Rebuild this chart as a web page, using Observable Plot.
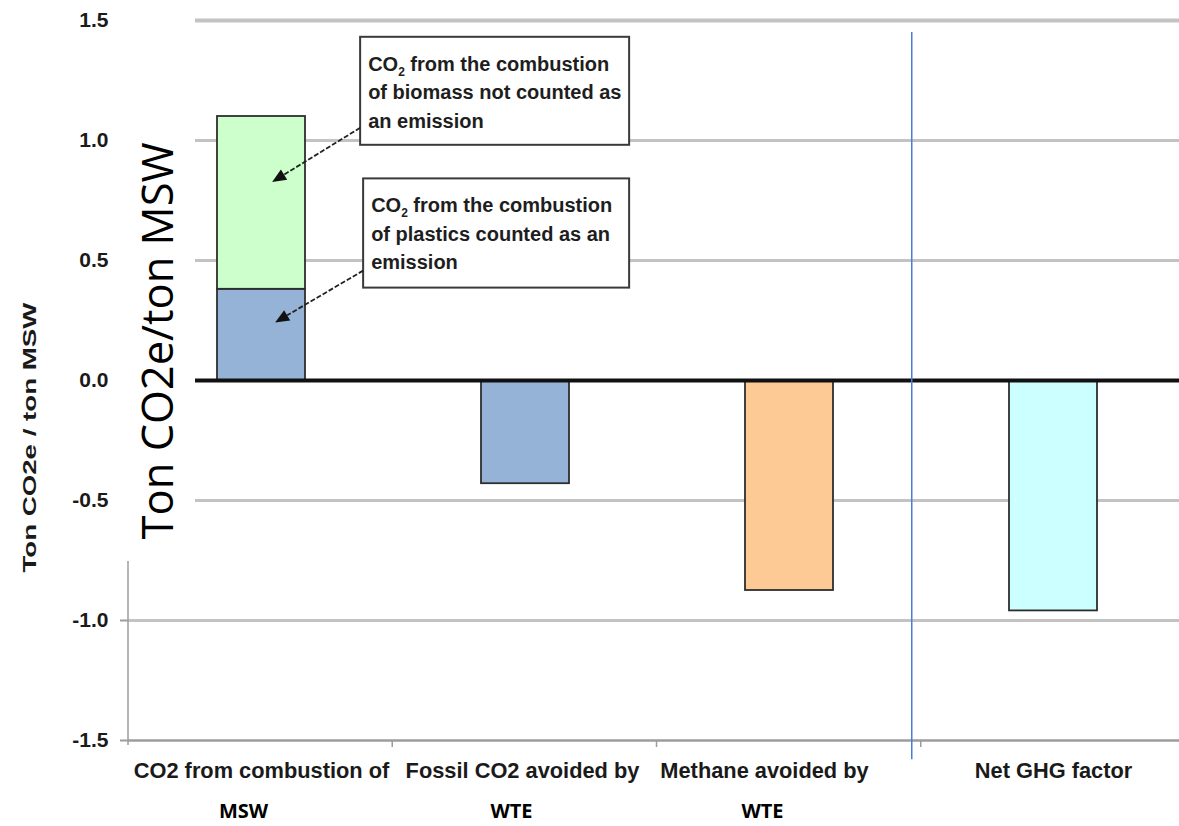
<!DOCTYPE html>
<html><head><meta charset="utf-8">
<script src="https://cdn.jsdelivr.net/npm/d3@7"></script>
<script src="https://cdn.jsdelivr.net/npm/@observablehq/plot@0.6"></script>
<style>
html,body{margin:0;padding:0;background:#fff;overflow:hidden;}
#chart{position:relative;width:1179px;height:826px;}
</style></head><body><div id="chart"></div>
<script>
// ---------- data ----------
const categories = ["CO2 from combustion of", "Fossil CO2 avoided by", "Methane avoided by", "Net GHG factor"];
const categorySecondLine = ["MSW", "WTE", "WTE", ""];
const seriesNames = ["CO2 from plastics", "CO2 from biomass", "Fossil CO2 avoided", "Methane avoided", "Net GHG factor"];
const seriesCategory = [0, 0, 1, 2, 3];
const seriesValues = [0.38, 0.72, -0.43, -0.875, -0.96];
const seriesColors = ["#95b3d7", "#ccffcc", "#95b3d7", "#fdca95", "#ccffff"];
const yTicks = [-1.5, -1.0, -0.5, 0, 0.5, 1.0, 1.5];
const annotationLines = [
  ["CO|2| from the combustion", "of biomass not counted as", "an emission"],
  ["CO|2| from the combustion", "of plastics counted as an", "emission"]
];
const annotationTarget = [0.825, 0.24];
const annotationBoxTop = [1.43, 0.84];
const annotationBoxBottom = [0.98, 0.385];
const yTitle = "Ton CO2e / ton MSW";
const overlayTitle = "Ton CO2e/ton MSW";
const separatorTop = 1.45, separatorBottom = -1.58;

// ---------- styles ----------
const SANS = "'Liberation Sans', Arial, Helvetica, sans-serif";
const OPEN = "'Open Sans', 'Noto Sans', sans-serif";
const labelNudge = [0, -3, -25, 0];
const secondNudge = [-18, -14, -27, 0];

const rows = seriesNames.map((s, i) => ({series: s, category: categories[seriesCategory[i]], value: seriesValues[i]}));

const plot = Plot.plot({
  width: 1179, height: 826,
  marginTop: 20, marginBottom: 86, marginLeft: 128, marginRight: 0,
  x: {domain: categories, range: [128, 1185], padding: 0, axis: null},
  y: {domain: [-1.5, 1.5]},
  color: {domain: seriesNames, range: seriesColors},
  style: {fontFamily: SANS, background: "white", color: "#1a1a1a"},
  marks: [
    Plot.ruleY(yTicks.filter(d => d !== 0 && d !== -1.5 && d !== 1.5), {stroke: "#c3c3c3", strokeWidth: 3}),
    Plot.ruleY([1.5], {stroke: "#c3c3c3", strokeWidth: 4}),
    Plot.ruleY([-1.5], {stroke: "#9c9c9c", strokeWidth: 2.5}),
    Plot.axisY({ticks: yTicks, tickSize: 8, tickPadding: 12, stroke: "#9c9c9c", strokeWidth: 2,
      tickFormat: d => d.toFixed(1), fontSize: 21, fontWeight: "bold", label: null}),
    Plot.barY(rows, {x: "category", y: "value", fill: "series", stroke: "#2e2e2e", strokeWidth: 1.8,
      insetLeft: 88, insetRight: 88}),
    Plot.ruleY([0], {stroke: "#111", strokeWidth: 4}),
    ...categories.map((c, i) => Plot.text([c], {x: d => d, text: d => d, frameAnchor: "bottom", dy: 37, dx: labelNudge[i],
      fontSize: 21.8, fontWeight: "bold", fill: "#1a1a1a"})),
    ...categories.map((c, i) => Plot.text([c], {x: d => d, text: () => categorySecondLine[i], frameAnchor: "bottom", dy: 77,
      dx: secondNudge[i], fontSize: 20, fontWeight: "bold", fontFamily: OPEN, fill: "#000"}))
  ]
});
document.getElementById("chart").appendChild(plot);

// ---------- decorations using Plot's scales ----------
const sx = plot.scale("x"), sy = plot.scale("y");
const xs = d3.scaleBand(sx.domain, sx.range).paddingInner(sx.paddingInner || 0).paddingOuter(sx.paddingOuter || 0).align(sx.align ?? 0.5);
const ys = d3.scaleLinear(sy.domain, sy.range);
const svg = d3.select(plot);
const g = svg.append("g").attr("text-anchor", "start");
const x0 = xs.range()[0];
const c0 = xs(categories[0]) + xs.bandwidth() / 2;

// x boundary ticks
for (let i = 1; i < categories.length; i++) {
  const bx = xs(categories[i]);
  g.append("line").attr("x1", bx).attr("x2", bx).attr("y1", ys(-1.5)).attr("y2", ys(-1.5) + 7)
    .attr("stroke", "#9c9c9c").attr("stroke-width", 1.5);
}
// y axis line
g.append("line").attr("x1", x0).attr("x2", x0).attr("y1", ys(1.5)).attr("y2", ys(-1.5) + 5)
  .attr("stroke", "#9c9c9c").attr("stroke-width", 1.5);
// blue separator
const sepX = xs(categories[3]) - 9;
g.append("line").attr("x1", sepX).attr("x2", sepX).attr("y1", ys(separatorTop)).attr("y2", ys(separatorBottom))
  .attr("stroke", "#4a7bd8").attr("stroke-width", 1.5);

// white cover with overlay title
g.append("rect").attr("x", x0 - 16).attr("y", 0).attr("width", 83).attr("height", ys(-0.75) + 1).attr("fill", "white");
g.append("text").attr("transform", `translate(${x0 + 28},${ys(0.163)}) rotate(-90)`)
  .attr("text-anchor", "middle").attr("dominant-baseline", "central")
  .attr("font-family", OPEN).attr("font-size", 43).attr("fill", "#000")
  .attr("textLength", 397).attr("lengthAdjust", "spacingAndGlyphs").text(overlayTitle);

// y title
g.append("text").attr("transform", `translate(29,${ys(-0.24)}) rotate(-90)`)
  .attr("text-anchor", "middle").attr("dominant-baseline", "central")
  .attr("font-family", SANS).attr("font-weight", "bold").attr("font-size", 19).attr("fill", "#1a1a1a")
  .attr("textLength", 270).attr("lengthAdjust", "spacingAndGlyphs").text(yTitle);

// annotations
const boxLeft = [c0 + 100, c0 + 103];
const boxWidth = [269, 266];
annotationLines.forEach((lines, k) => {
  const top = ys(annotationBoxTop[k]), bottom = ys(annotationBoxBottom[k]);
  const L = boxLeft[k];
  g.append("rect").attr("x", L).attr("y", top).attr("width", boxWidth[k]).attr("height", bottom - top)
    .attr("fill", "white").attr("stroke", "#3a3a3a").attr("stroke-width", 2);
  lines.forEach((ln, j) => {
    const t = g.append("text").attr("x", L + 8).attr("y", top + 34 + j * 28.5).attr("text-anchor", "start")
      .attr("font-family", SANS).attr("font-weight", "bold").attr("font-size", 20).attr("fill", "#1e1e1e");
    const parts = ln.split("|");
    parts.forEach((p, m) => {
      if (m === 1) t.append("tspan").attr("font-size", 12).attr("dy", 5).text(p);
      else if (m === 2) t.append("tspan").attr("dy", -5).text(p);
      else t.append("tspan").text(p);
    });
  });
  // arrow
  const sxA = L, syA = bottom - 17;
  const tx = c0 + 12 + k * 3, ty = ys(annotationTarget[k]);
  const ang = Math.atan2(ty - syA, tx - sxA);
  const len = 14, hw = 6;
  const bx = tx - len * Math.cos(ang), by = ty - len * Math.sin(ang);
  g.append("line").attr("x1", sxA).attr("y1", syA).attr("x2", bx).attr("y2", by)
    .attr("stroke", "#222").attr("stroke-width", 1.8).attr("stroke-dasharray", "5,2");
  const px = -Math.sin(ang), py = Math.cos(ang);
  g.append("polygon").attr("points", `${tx},${ty} ${bx + hw * px},${by + hw * py} ${bx - hw * px},${by - hw * py}`)
    .attr("fill", "#111");
});
</script></body></html>
